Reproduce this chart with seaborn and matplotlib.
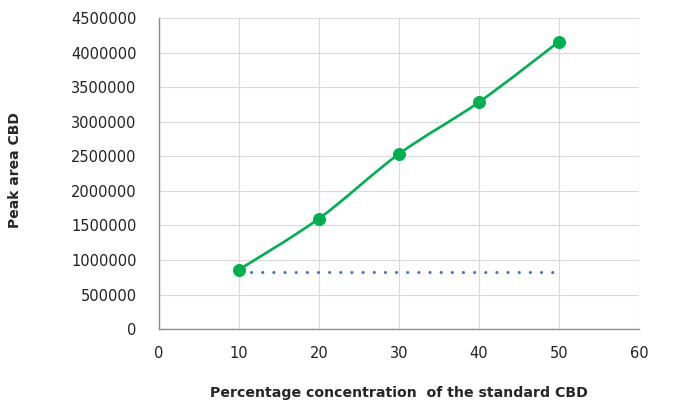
import numpy as np
import pandas as pd
import seaborn as sns
import matplotlib.pyplot as plt
from matplotlib.path import Path
from matplotlib.patches import PathPatch

# data
concentration = [10, 20, 30, 40, 50]
peak_area = [860000, 1600000, 2535000, 3285000, 4160000]
trend_x = [11.5, 50]
trend_y = [825000, 825000]

df = pd.DataFrame({'conc': concentration, 'area': peak_area})

sns.set_style('white')
plt.rcParams['font.family'] = ['DejaVu Sans']

fig = plt.figure(figsize=(6.79, 4.13), dpi=100)
ax = fig.add_axes([0.234, 0.203, 0.707, 0.753])

green = '#00b050'

# smoothed line (Excel-like), bezier segments from the data points
xs = np.array(concentration, dtype=float)
ys = np.array(peak_area, dtype=float)
verts = [(xs[0], ys[0])]
codes = [Path.MOVETO]
for i in range(len(xs) - 1):
    p0 = (xs[i - 1], ys[i - 1]) if i > 0 else (xs[i], ys[i])
    p3 = (xs[i + 2], ys[i + 2]) if i + 2 < len(xs) else (xs[i + 1], ys[i + 1])
    c1 = (xs[i] + (xs[i + 1] - p0[0]) / 6, ys[i] + (ys[i + 1] - p0[1]) / 6)
    c2 = (xs[i + 1] - (p3[0] - xs[i]) / 6, ys[i + 1] - (p3[1] - ys[i]) / 6)
    verts += [c1, c2, (xs[i + 1], ys[i + 1])]
    codes += [Path.CURVE4] * 3
ax.add_patch(PathPatch(Path(verts, codes), fill=False, edgecolor=green, lw=1.9, zorder=3))

sns.scatterplot(data=df, x='conc', y='area', ax=ax, color=green, s=75,
                edgecolor=green, zorder=4)

# dotted trend line
line = sns.lineplot(x=trend_x, y=trend_y, ax=ax, color='#4a72b0', lw=2.2,
                    zorder=2).lines[-1]
line.set_dashes((0.05, 3.6))
line.set_dash_capstyle('round')

ax.set_xlim(0, 60)
ax.set_ylim(0, 4500000)
ax.set_xticks(range(0, 61, 10))
ax.set_yticks(range(0, 4500001, 500000))
ax.set_yticklabels([str(v) for v in range(0, 4500001, 500000)])
ax.tick_params(labelsize=10.5, colors='#222222', length=0)
ax.tick_params(axis='y', pad=16)
ax.tick_params(axis='x', pad=12)
ax.grid(True, color='#d9d9d9', lw=0.8)
ax.set_axisbelow(True)

for s in ['top', 'right']:
    ax.spines[s].set_visible(False)
for s in ['left', 'bottom']:
    ax.spines[s].set_color('#8c8c8c')
    ax.spines[s].set_linewidth(1)

ax.set_xlabel('Percentage concentration  of the standard CBD', fontsize=10.2,
              fontweight='bold', labelpad=18)
ax.set_ylabel('Peak area CBD', fontsize=10, fontweight='bold')
ax.yaxis.set_label_coords(-0.285, 0.51)

fig.savefig('out.png', dpi=100)
